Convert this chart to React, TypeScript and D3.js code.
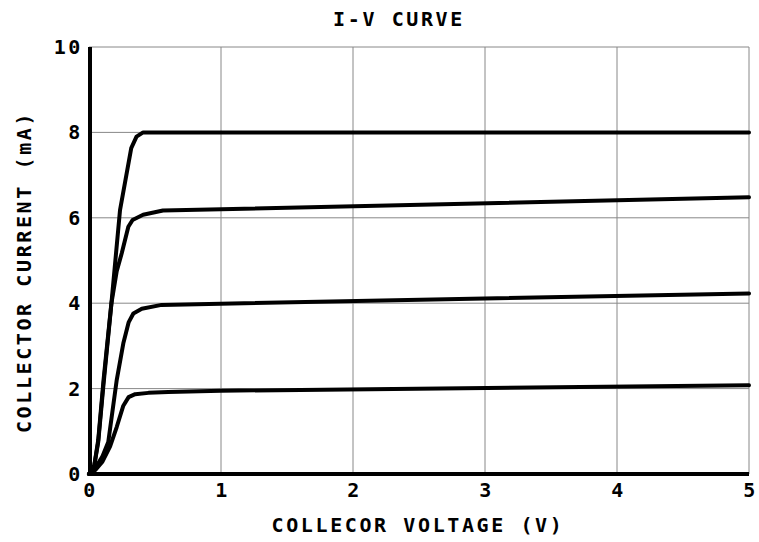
import React from 'react'
import * as d3 from 'd3'

// (V, mA)
const curve2V=[0,0.05,0.1,0.16,0.21,0.26,0.3,0.35,0.45,0.6,1,5]
const curve2I=[0,0.1,0.28,0.65,1.1,1.6,1.8,1.87,1.9,1.92,1.95,2.08]
const curve4V=[0,0.05,0.1,0.146,0.21,0.26,0.3,0.336,0.4,0.55,5]
const curve4I=[0,0.15,0.4,0.75,2.2,3.06,3.55,3.76,3.87,3.96,4.23]
const curve6V=[0,0.04,0.07,0.11,0.17,0.21,0.248,0.298,0.33,0.41,0.56,5]
const curve6I=[0,0.2,0.75,2.1,4.0,4.75,5.17,5.79,5.95,6.07,6.17,6.48]
const curve8V=[0,0.04,0.07,0.11,0.172,0.235,0.32,0.36,0.41,5]
const curve8I=[0,0.2,0.8,2.2,4.07,6.18,7.63,7.9,8.0,8.0]
const xTicks=[0,1,2,3,4,5]
const yTicks=[0,2,4,6,8,10]
const TITLE='I-V CURVE'
const XLABEL='COLLECOR VOLTAGE (V)'
const YLABEL='COLLECTOR CURRENT (mA)'

const FONT='"DejaVu Sans Mono", monospace'

export default function App() {
  const W=759, H=542
  const x=d3.scaleLinear().domain([0,5]).range([89,749])
  const y=d3.scaleLinear().domain([0,10]).range([474,47])
  const series=[[curve2V,curve2I],[curve4V,curve4I],[curve6V,curve6I],[curve8V,curve8I]]
  const line=d3.line<[number,number]>().x(d=>x(d[0])).y(d=>y(d[1])).curve(d3.curveLinear)
  const txt={fontFamily:FONT,fontSize:20,fontWeight:'bold',fill:'#000',letterSpacing:2.6} as React.CSSProperties
  return (
    <svg width={W} height={H} style={{position:'absolute',left:0,top:0,background:'#fff'}}>
      {xTicks.slice(1).map(t=>(
        <line key={'gx'+t} x1={x(t)} x2={x(t)} y1={y(10)} y2={y(0)} stroke="#888" strokeWidth={1}/>
      ))}
      {yTicks.slice(1).map(t=>(
        <line key={'gy'+t} x1={x(0)} x2={x(5)} y1={y(t)} y2={y(t)} stroke="#888" strokeWidth={1}/>
      ))}
      <line x1={x(0)+1} x2={x(0)+1} y1={y(10)} y2={y(0)+2} stroke="#000" strokeWidth={4}/>
      <line x1={x(0)} x2={x(5)} y1={y(0)} y2={y(0)} stroke="#000" strokeWidth={4}/>
      {series.map(([vs,is],i)=>(
        <path key={i} d={line(vs.map((v,j)=>[v,is[j]] as [number,number]))||''} fill="none" stroke="#000"
          strokeWidth={4} strokeLinejoin="round" strokeLinecap="round"/>
      ))}
      {xTicks.map(t=>(
        <text key={'tx'+t} x={x(t)+1.5} y={497} textAnchor="middle" style={txt}>{t}</text>
      ))}
      {yTicks.map(t=>(
        <text key={'ty'+t} x={83} y={y(t)+7} textAnchor="end" style={txt}>{t}</text>
      ))}
      <text x={399} y={26} textAnchor="middle" style={txt}>{TITLE}</text>
      <text x={418} y={532} textAnchor="middle" style={txt}>{XLABEL}</text>
      <text transform={`translate(31,${272}) rotate(-90)`} textAnchor="middle" style={txt}>{YLABEL}</text>
    </svg>
  )
}
